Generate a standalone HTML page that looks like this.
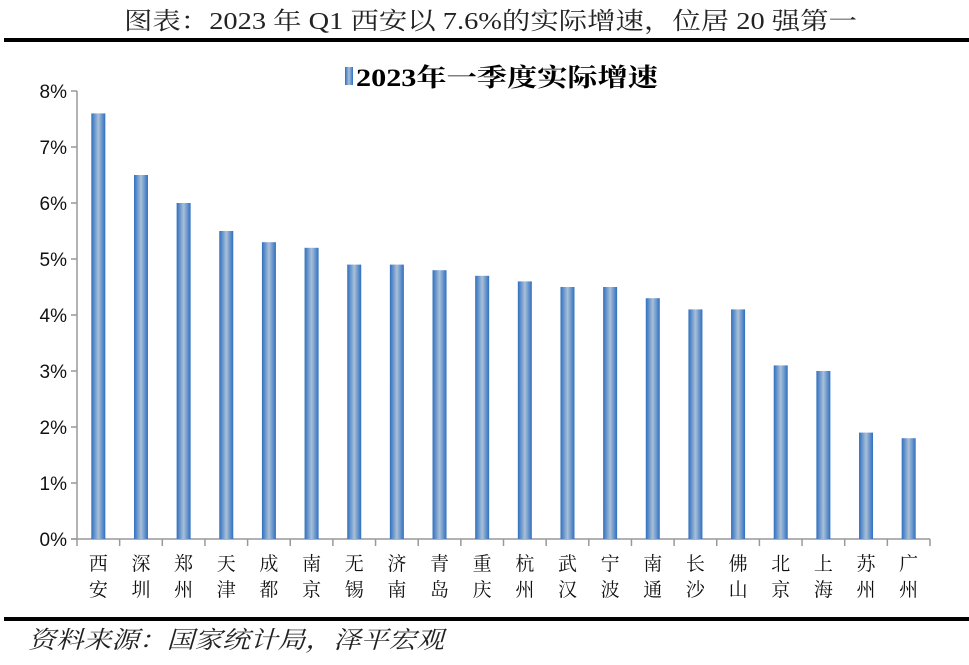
<!DOCTYPE html>
<html><head><meta charset="utf-8"><style>
body{margin:0;background:#fff;width:969px;height:660px;overflow:hidden}
svg text{font-family:"Liberation Sans","Noto Sans CJK SC",sans-serif}
</style></head><body>
<svg width="969" height="660" xmlns="http://www.w3.org/2000/svg">
<defs><linearGradient id="bg" x1="0" x2="1" y1="0" y2="0">
<stop offset="0" stop-color="#2f6fc0"/><stop offset="0.5" stop-color="#a9c0d8"/><stop offset="1" stop-color="#2f6fc0"/></linearGradient></defs>
<text x="124" y="29" textLength="733" lengthAdjust="spacingAndGlyphs" font-size="24" fill="#222" style="font-family:'Liberation Serif','Noto Serif CJK SC',serif">图表：2023 年 Q1 西安以 7.6%的实际增速，位居 20 强第一</text>
<rect x="4" y="38" width="965" height="4" fill="#000"/>
<g>
<rect x="345" y="67" width="8" height="18" fill="url(#bg)"/>
<text x="356" y="86" textLength="302" lengthAdjust="spacingAndGlyphs" font-size="25" font-weight="bold" fill="#000" style="font-family:'Liberation Serif','Noto Serif CJK SC',serif">2023年一季度实际增速</text>
</g>
<g id="plot"></g>
<rect x="4" y="617" width="965" height="4" fill="#000"/>
<text x="28" y="648" textLength="416" lengthAdjust="spacingAndGlyphs" font-size="24" font-style="italic" fill="#222" style="font-family:'Liberation Serif','Noto Serif CJK SC',serif">资料来源：国家统计局，泽平宏观</text>
</svg>
<script>
const categories=["西安","深圳","郑州","天津","成都","南京","无锡","济南","青岛","重庆","杭州","武汉","宁波","南通","长沙","佛山","北京","上海","苏州","广州"];
const values=[7.6,6.5,6.0,5.5,5.3,5.2,4.9,4.9,4.8,4.7,4.6,4.5,4.5,4.3,4.1,4.1,3.1,3.0,1.9,1.8];
const yTicks=[0,1,2,3,4,5,6,7,8];
const NS="http://www.w3.org/2000/svg";
const g=document.getElementById('plot');
const x0=77,x1=930,yTop=91,yBot=539,yMax=8;
const step=(x1-x0)/categories.length;
const y=v=>yBot-(v/yMax)*(yBot-yTop);
function mk(t,a){const e=document.createElementNS(NS,t);for(const k in a)e.setAttribute(k,a[k]);g.appendChild(e);return e;}
let e=mk('line',{x1:x0,x2:x0,y1:yTop,y2:yBot,stroke:'#999','stroke-width':1.5});


e=mk('line',{x1:x0-6,x2:x1,y1:yBot,y2:yBot,stroke:'#999','stroke-width':1.5});


yTicks.forEach(t=>{
 const tk=mk('line',{x1:x0-6,x2:x0,y1:y(t),y2:y(t),stroke:'#999','stroke-width':1.5});
 
 
 const tx=mk('text',{x:x0-10,y:y(t)+7,'text-anchor':'end','font-size':19,fill:'#111'});
 tx.textContent=t+'%';
 
 
});
for(let i=0;i<=categories.length;i++){
 const tk=mk('line',{x1:x0+i*step,x2:x0+i*step,y1:yBot,y2:yBot+7,stroke:'#999','stroke-width':1.5});
 
 
}
categories.forEach((c,i)=>{
 const cx=x0+(i+0.5)*step;
 const b=mk('rect',{x:cx-7,y:y(values[i]),width:14,height:yBot-y(values[i]),fill:'url(#bg)'});
 
 
 [0,1].forEach(j=>{
  const t=mk('text',{x:cx,y:570+j*26,'text-anchor':'middle','font-size':19,fill:'#111',style:"font-family:'Liberation Serif','Noto Serif CJK SC',serif"});
  t.textContent=c[j];
  
  
 });
});
</script>
</body></html>
